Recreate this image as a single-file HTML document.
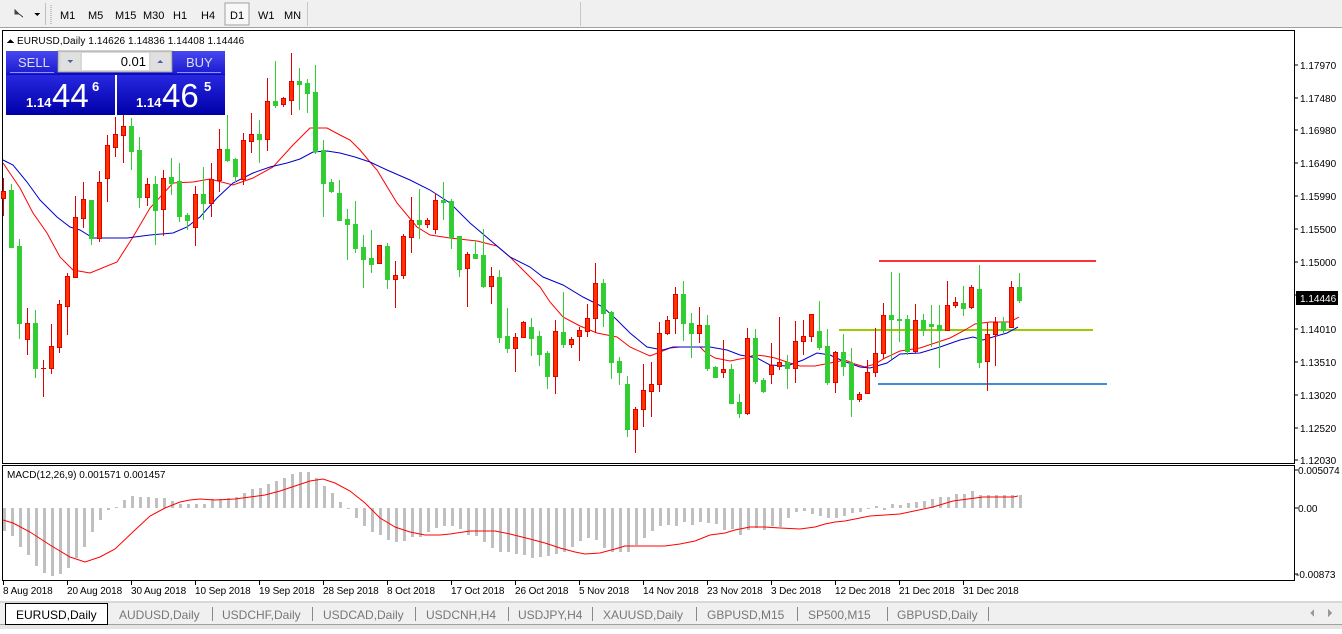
<!DOCTYPE html>
<html><head><meta charset="utf-8">
<style>
html,body{margin:0;padding:0;background:#fff;}
body{width:1342px;height:629px;overflow:hidden;position:relative;font-family:"Liberation Sans",sans-serif;}
svg text{font-family:"Liberation Sans",sans-serif;}
</style></head><body>
<svg width="1342" height="629" viewBox="0 0 1342 629" xmlns="http://www.w3.org/2000/svg" shape-rendering="crispEdges">
<rect x="0" y="0" width="1342" height="28" fill="#f0f0f0"/>
<rect x="0" y="27" width="1342" height="1" fill="#a0a0a0"/>
<rect x="580" y="2" width="1" height="24" fill="#c8c8c8"/>
<rect x="307" y="2" width="1" height="24" fill="#c8c8c8"/>
<rect x="45" y="3" width="1" height="22" fill="#c0c0c0"/>
<path d="M51 5V24" stroke="#999" stroke-dasharray="1 1"/>
<path d="M15 10l4 4-4 0zM19 14l4 3" stroke="#444" fill="#444"/>
<path d="M34 13h6l-3 3z" fill="#000"/>
<rect x="225" y="3" width="24" height="22" fill="#f8f8f8" stroke="#a0a0a0"/>
<g font-size="11" fill="#000">
<text x="60" y="19">M1</text><text x="88" y="19">M5</text><text x="115" y="19">M15</text><text x="143" y="19">M30</text><text x="173" y="19">H1</text><text x="201" y="19">H4</text><text x="230" y="19">D1</text><text x="258" y="19">W1</text><text x="284" y="19">MN</text>
</g>
<rect x="2.5" y="30.5" width="1292" height="433" fill="#fff" stroke="#000"/>
<rect x="2.5" y="465.5" width="1292" height="115" fill="#fff" stroke="#000"/>
<rect x="879" y="260" width="217" height="2" fill="#ff3333"/>
<rect x="839" y="329" width="254" height="2" fill="#9acd00"/>
<rect x="878" y="383" width="229" height="2" fill="#3a8fd8"/>
<g fill="none" stroke-width="1" shape-rendering="auto">
<polyline stroke="#ff0000" points="3,163 20,188 33,213 47,233 60,257 73,270 90,273 117,262 133,237 150,208 173,183 193,182 210,179 233,185 253,178 273,167 293,145 310,128 327,128 340,135 350,140 360,150 370,162 377,170 397,203 417,227 430,235 450,238 477,241 497,246 510,257 530,277 540,287 550,302 563,317 580,326 597,333 617,337 630,347 650,356 660,352 670,348 680,347 700,347 705,352 715,358 730,361 745,358 755,355 765,356 775,358 790,363 800,366 815,366 830,363 845,360 855,364 865,367 875,364 885,358 900,351 920,348 935,343 950,338 965,330 975,324 990,322 1010,322 1019,317"/>
<polyline stroke="#0000cc" points="3,160 13,165 27,182 40,200 57,217 70,227 80,230 93,238 127,238 150,235 173,233 187,227 200,217 217,198 233,183 253,173 270,167 287,163 300,159 313,152 327,151 340,153 355,157 370,162 387,170 410,180 430,190 450,203 470,223 490,240 510,257 530,267 543,277 563,285 583,297 603,307 617,320 630,333 647,347 663,350 673,347 710,347 727,350 740,355 757,358 770,365 787,366 803,360 817,353 830,355 843,361 860,367 870,368 887,363 900,354 920,353 940,347 960,340 973,337 983,340 993,337 1007,333 1018,327"/>
</g>
<g fill="#ff3300" stroke="#e00000">
<path fill="none" d="M3.5 178V216M27.5 308V355M43.5 360V397M51.5 324V374M59.5 300V353M67.5 273V335M75.5 196V278M83.5 182V228M99.5 171V242M107.5 135V202M115.5 117V157M123.5 112V163M147.5 178V206M163.5 170V236M195.5 186V246M211.5 163V217M219.5 129V192M243.5 133V185M251.5 113V153M267.5 78V151M283.5 97V107M291.5 53V115M379.5 245V263M395.5 261V308M403.5 234V279M411.5 197V253M427.5 218V228M435.5 193V234M467.5 252V307M491.5 267V304M515.5 333V372M523.5 321V338M555.5 320V394M571.5 337V348M579.5 327V361M587.5 304V337M595.5 263V333M635.5 407V453M643.5 364V427M651.5 362V417M659.5 322V392M667.5 316V335M675.5 287V334M699.5 307V343M723.5 340V378M747.5 328V415M771.5 343V384M779.5 317V370M795.5 321V383M803.5 320V355M811.5 314V342M835.5 351V393M859.5 392V402M867.5 360V394M875.5 328V377M883.5 303V359M915.5 304V353M947.5 281V330M955.5 297V308M971.5 285V309M987.5 323V391M995.5 317V366M1011.5 281V328"/>
<rect x="1.5" y="191.5" width="4" height="7"/><rect x="25.5" y="323.5" width="4" height="16"/><rect x="41.5" y="368.5" width="4" height="0.1"/><rect x="49.5" y="346.5" width="4" height="22"/><rect x="57.5" y="304.5" width="4" height="43"/><rect x="65.5" y="276.5" width="4" height="30"/><rect x="73.5" y="217.5" width="4" height="60"/><rect x="81.5" y="199.5" width="4" height="19"/><rect x="97.5" y="182.5" width="4" height="56"/><rect x="105.5" y="145.5" width="4" height="33"/><rect x="113.5" y="134.5" width="4" height="13"/><rect x="121.5" y="126.5" width="4" height="9"/><rect x="145.5" y="184.5" width="4" height="13"/><rect x="161.5" y="178.5" width="4" height="31"/><rect x="193.5" y="194.5" width="4" height="33"/><rect x="209.5" y="179.5" width="4" height="24"/><rect x="217.5" y="149.5" width="4" height="31"/><rect x="241.5" y="140.5" width="4" height="39"/><rect x="249.5" y="134.5" width="4" height="7"/><rect x="265.5" y="101.5" width="4" height="38"/><rect x="281.5" y="98.5" width="4" height="6"/><rect x="289.5" y="81.5" width="4" height="19"/><rect x="377.5" y="245.5" width="4" height="18"/><rect x="393.5" y="275.5" width="4" height="4"/><rect x="401.5" y="236.5" width="4" height="39"/><rect x="409.5" y="220.5" width="4" height="17"/><rect x="425.5" y="220.5" width="4" height="4"/><rect x="433.5" y="200.5" width="4" height="29"/><rect x="465.5" y="254.5" width="4" height="14"/><rect x="489.5" y="276.5" width="4" height="10"/><rect x="513.5" y="337.5" width="4" height="11"/><rect x="521.5" y="322.5" width="4" height="15"/><rect x="553.5" y="331.5" width="4" height="45"/><rect x="569.5" y="339.5" width="4" height="5"/><rect x="577.5" y="330.5" width="4" height="6"/><rect x="585.5" y="318.5" width="4" height="13"/><rect x="593.5" y="283.5" width="4" height="35"/><rect x="633.5" y="409.5" width="4" height="20"/><rect x="641.5" y="390.5" width="4" height="19"/><rect x="649.5" y="384.5" width="4" height="7"/><rect x="657.5" y="333.5" width="4" height="51"/><rect x="665.5" y="320.5" width="4" height="13"/><rect x="673.5" y="294.5" width="4" height="24"/><rect x="697.5" y="325.5" width="4" height="8"/><rect x="721.5" y="369.5" width="4" height="3"/><rect x="745.5" y="338.5" width="4" height="75"/><rect x="769.5" y="365.5" width="4" height="9"/><rect x="777.5" y="362.5" width="4" height="4"/><rect x="793.5" y="341.5" width="4" height="27"/><rect x="801.5" y="336.5" width="4" height="5"/><rect x="809.5" y="314.5" width="4" height="22"/><rect x="833.5" y="352.5" width="4" height="30"/><rect x="857.5" y="394.5" width="4" height="5"/><rect x="865.5" y="372.5" width="4" height="21"/><rect x="873.5" y="353.5" width="4" height="19"/><rect x="881.5" y="315.5" width="4" height="38"/><rect x="913.5" y="320.5" width="4" height="31"/><rect x="945.5" y="305.5" width="4" height="25"/><rect x="953.5" y="302.5" width="4" height="3"/><rect x="969.5" y="287.5" width="4" height="20"/><rect x="985.5" y="334.5" width="4" height="27"/><rect x="993.5" y="322.5" width="4" height="12"/><rect x="1009.5" y="287.5" width="4" height="40"/>
</g>
<g fill="#32cd32" stroke="#32cd32">
<path fill="none" d="M11.5 184V248M19.5 239V339M35.5 310V378M91.5 200V245M131.5 118V170M139.5 137V208M155.5 176V245M171.5 158V195M179.5 163V222M187.5 213V230M203.5 167V220M227.5 115V162M235.5 158V182M259.5 120V163M275.5 61V108M299.5 68V110M307.5 79V113M315.5 65V154M323.5 140V217M331.5 179V193M339.5 180V221M347.5 209V260M355.5 201V253M363.5 235V288M371.5 230V273M387.5 243V289M419.5 189V239M443.5 182V220M451.5 199V249M459.5 236V277M475.5 240V258M483.5 229V288M499.5 270V343M507.5 308V353M531.5 318V356M539.5 331V366M547.5 351V389M563.5 292V348M603.5 279V327M611.5 311V379M619.5 357V385M627.5 376V437M683.5 281V341M691.5 313V358M707.5 315V371M715.5 366V378M731.5 364V404M739.5 394V418M755.5 329V384M763.5 378V393M787.5 355V389M819.5 301V350M827.5 329V385M843.5 334V376M851.5 348V417M891.5 272V359M899.5 273V342M907.5 315V355M923.5 314V336M931.5 305V347M939.5 305V368M963.5 286V316M979.5 265V368M1003.5 317V333M1019.5 273V303"/>
<rect x="9.5" y="190.5" width="4" height="57"/><rect x="17.5" y="246.5" width="4" height="77"/><rect x="33.5" y="323.5" width="4" height="45"/><rect x="89.5" y="200.5" width="4" height="38"/><rect x="129.5" y="126.5" width="4" height="25"/><rect x="137.5" y="150.5" width="4" height="47"/><rect x="153.5" y="184.5" width="4" height="26"/><rect x="169.5" y="177.5" width="4" height="6"/><rect x="177.5" y="181.5" width="4" height="35"/><rect x="185.5" y="215.5" width="4" height="5"/><rect x="201.5" y="194.5" width="4" height="9"/><rect x="225.5" y="149.5" width="4" height="11"/><rect x="233.5" y="159.5" width="4" height="17"/><rect x="257.5" y="134.5" width="4" height="5"/><rect x="273.5" y="101.5" width="4" height="4"/><rect x="297.5" y="81.5" width="4" height="3"/><rect x="305.5" y="83.5" width="4" height="10"/><rect x="313.5" y="92.5" width="4" height="59"/><rect x="321.5" y="150.5" width="4" height="33"/><rect x="329.5" y="182.5" width="4" height="9"/><rect x="337.5" y="193.5" width="4" height="27"/><rect x="345.5" y="219.5" width="4" height="5"/><rect x="353.5" y="224.5" width="4" height="24"/><rect x="361.5" y="247.5" width="4" height="12"/><rect x="369.5" y="258.5" width="4" height="6"/><rect x="385.5" y="246.5" width="4" height="33"/><rect x="417.5" y="220.5" width="4" height="4"/><rect x="441.5" y="200.5" width="4" height="2"/><rect x="449.5" y="201.5" width="4" height="36"/><rect x="457.5" y="236.5" width="4" height="33"/><rect x="473.5" y="254.5" width="4" height="4"/><rect x="481.5" y="255.5" width="4" height="31"/><rect x="497.5" y="277.5" width="4" height="60"/><rect x="505.5" y="336.5" width="4" height="12"/><rect x="529.5" y="327.5" width="4" height="11"/><rect x="537.5" y="336.5" width="4" height="18"/><rect x="545.5" y="353.5" width="4" height="23"/><rect x="561.5" y="332.5" width="4" height="12"/><rect x="601.5" y="283.5" width="4" height="30"/><rect x="609.5" y="312.5" width="4" height="50"/><rect x="617.5" y="361.5" width="4" height="11"/><rect x="625.5" y="384.5" width="4" height="45"/><rect x="681.5" y="294.5" width="4" height="29"/><rect x="689.5" y="323.5" width="4" height="10"/><rect x="705.5" y="325.5" width="4" height="43"/><rect x="713.5" y="367.5" width="4" height="10"/><rect x="729.5" y="369.5" width="4" height="34"/><rect x="737.5" y="402.5" width="4" height="11"/><rect x="753.5" y="338.5" width="4" height="43"/><rect x="761.5" y="380.5" width="4" height="11"/><rect x="785.5" y="362.5" width="4" height="6"/><rect x="817.5" y="331.5" width="4" height="16"/><rect x="825.5" y="346.5" width="4" height="36"/><rect x="841.5" y="352.5" width="4" height="14"/><rect x="849.5" y="363.5" width="4" height="36"/><rect x="889.5" y="315.5" width="4" height="4"/><rect x="897.5" y="319.5" width="4" height="1"/><rect x="905.5" y="319.5" width="4" height="32"/><rect x="921.5" y="320.5" width="4" height="10"/><rect x="929.5" y="324.5" width="4" height="2"/><rect x="937.5" y="325.5" width="4" height="5"/><rect x="961.5" y="303.5" width="4" height="5"/><rect x="977.5" y="289.5" width="4" height="73"/><rect x="1001.5" y="322.5" width="4" height="8"/><rect x="1017.5" y="287.5" width="4" height="13"/>
</g>
<path d="M7 43l3.5-4 3.5 4z" fill="#000"/>
<text x="17" y="44" font-size="10" letter-spacing="0.1" fill="#000">EURUSD,Daily  1.14626 1.14836 1.14408 1.14446</text>
<defs>
<linearGradient id="gb" x1="0" y1="0" x2="0" y2="1"><stop offset="0" stop-color="#4848f0"/><stop offset="1" stop-color="#1a1ad0"/></linearGradient>
<linearGradient id="gd" x1="0" y1="0" x2="0" y2="1"><stop offset="0" stop-color="#2828e0"/><stop offset="1" stop-color="#0000a8"/></linearGradient>
</defs>
<rect x="6" y="51" width="219" height="64" fill="#0a0ac0"/>
<rect x="6" y="51" width="51" height="23" fill="url(#gb)"/>
<rect x="173" y="51" width="52" height="23" fill="url(#gb)"/>
<rect x="10" y="72" width="44" height="1" fill="#9090ff"/>
<rect x="177" y="72" width="44" height="1" fill="#9090ff"/>
<rect x="58" y="51" width="114" height="21" fill="#d8d8d8" stroke="#a0a0a0"/>
<rect x="82" y="53" width="67" height="17" fill="#fff"/>
<rect x="61" y="53" width="19" height="17" fill="#e0e0e0"/>
<rect x="151" y="53" width="19" height="17" fill="#e0e0e0"/>
<path d="M67 60h6l-3 3z" fill="#5060a0"/><path d="M157 63h6l-3-3z" fill="#5060a0"/>
<text x="146" y="66" font-size="13" fill="#000" text-anchor="end">0.01</text>
<text x="18" y="67" font-size="13" fill="#dde">SELL</text>
<text x="186" y="67" font-size="13" fill="#dde">BUY</text>
<rect x="6" y="75" width="109" height="40" fill="url(#gd)"/>
<rect x="117" y="75" width="108" height="40" fill="url(#gd)"/>
<rect x="115" y="75" width="2" height="40" fill="#fff"/>
<g fill="#fff">
<text x="26" y="107" font-size="13" font-weight="bold">1.14</text>
<text x="52" y="107" font-size="33">44</text>
<text x="92" y="91" font-size="13" font-weight="bold">6</text>
<text x="136" y="107" font-size="13" font-weight="bold">1.14</text>
<text x="162" y="107" font-size="33">46</text>
<text x="204" y="91" font-size="13" font-weight="bold">5</text>
</g>
<path d="M1294 65h4M1294 98h4M1294 130h4M1294 163h4M1294 196h4M1294 229h4M1294 262h4M1294 295h4M1294 329h4M1294 362h4M1294 395h4M1294 428h4M1294 460h4M1294 470h4M1294 508h4M1294 574h4" stroke="#000"/>
<g font-size="10" fill="#000">
<text x="1300" y="69">1.17970</text><text x="1300" y="102">1.17480</text><text x="1300" y="134">1.16980</text><text x="1300" y="167">1.16490</text><text x="1300" y="200">1.15990</text><text x="1300" y="233">1.15500</text><text x="1300" y="266">1.15000</text><text x="1300" y="333">1.14010</text><text x="1300" y="366">1.13510</text><text x="1300" y="399">1.13020</text><text x="1300" y="432">1.12520</text><text x="1300" y="464">1.12030</text>
<text x="1298" y="474">0.005074</text><text x="1298" y="512">0.00</text><text x="1296" y="578">-0.00873</text>
</g>
<rect x="1296" y="291" width="42" height="14" fill="#000"/>
<text x="1300" y="302" font-size="10" fill="#fff">1.14446</text>
<text x="7" y="478" font-size="10" fill="#000">MACD(12,26,9) 0.001571 0.001457</text>
<path stroke="#c0c0c0" stroke-width="3" fill="none" d="M4.5 508V531M12.5 508V536M20.5 508V547M28.5 508V555M36.5 508V566M44.5 508V573M52.5 508V576M60.5 508V574M68.5 508V568M76.5 508V558M84.5 508V547M92.5 508V532M100.5 508V520M108.5 508V510M116.5 508V507M124.5 508V500M132.5 508V496M140.5 508V497M148.5 508V497M156.5 508V498M164.5 508V498M172.5 508V501M180.5 508V504M188.5 508V504M196.5 508V504M204.5 508V504M212.5 508V499M220.5 508V499M228.5 508V498M236.5 508V497M244.5 508V493M252.5 508V489M260.5 508V488M268.5 508V484M276.5 508V481M284.5 508V478M292.5 508V474M300.5 508V472M308.5 508V472M316.5 508V478M324.5 508V486M332.5 508V493M340.5 508V502M348.5 508V509M356.5 508V518M364.5 508V526M372.5 508V532M380.5 508V535M388.5 508V540M396.5 508V542M404.5 508V541M412.5 508V537M420.5 508V537M428.5 508V532M436.5 508V528M444.5 508V526M452.5 508V526M460.5 508V529M468.5 508V535M476.5 508V536M484.5 508V542M492.5 508V548M500.5 508V552M508.5 508V552M516.5 508V554M524.5 508V555M532.5 508V558M540.5 508V557M548.5 508V556M556.5 508V554M564.5 508V552M572.5 508V547M580.5 508V541M588.5 508V538M596.5 508V540M604.5 508V548M612.5 508V552M620.5 508V552M628.5 508V552M636.5 508V545M644.5 508V538M652.5 508V531M660.5 508V526M668.5 508V525M676.5 508V526M684.5 508V522M692.5 508V525M700.5 508V522M708.5 508V523M716.5 508V524M724.5 508V530M732.5 508V529M740.5 508V535M748.5 508V530M756.5 508V528M764.5 508V530M772.5 508V526M780.5 508V527M788.5 508V518M796.5 508V512M804.5 508V511M812.5 508V514M820.5 508V516M828.5 508V518M836.5 508V518M844.5 508V516M852.5 508V513M860.5 508V512M868.5 508V509M876.5 508V506M884.5 508V510M892.5 508V504M900.5 508V505M908.5 508V503M916.5 508V502M924.5 508V501M932.5 508V499M940.5 508V497M948.5 508V497M956.5 508V494M964.5 508V494M972.5 508V491M980.5 508V495M988.5 508V495M996.5 508V495M1004.5 508V495M1012.5 508V495M1020.5 508V495"/>
<polyline fill="none" stroke="#ff0000" shape-rendering="auto" points="3,520 13,523 30,532 50,545 70,557 85,562 100,557 115,549 135,530 150,516 165,508 180,502 190,500 200,499 215,500 235,499 250,497 265,495 280,491 295,486 310,481 323,479 335,483 350,491 365,503 380,518 395,527 410,532 425,535 440,535 450,534 470,531 495,531 510,534 530,539 545,543 560,548 575,552 585,554 600,553 615,549 625,546 640,546 665,546 680,544 695,541 710,535 725,533 735,530 750,527 765,527 780,528 800,529 815,527 825,524 835,522 845,521 855,519 870,516 885,515 900,514 933,507 953,501 983,497 1013,497 1018,496"/>
<path stroke="#000" d="M3.5 581V585M67.5 581V585M131.5 581V585M195.5 581V585M259.5 581V585M323.5 581V585M387.5 581V585M451.5 581V585M515.5 581V585M579.5 581V585M643.5 581V585M707.5 581V585M771.5 581V585M835.5 581V585M899.5 581V585M963.5 581V585"/>
<g font-size="10" fill="#000" letter-spacing="-0.1">
<text x="3" y="594">8 Aug 2018</text><text x="67" y="594">20 Aug 2018</text><text x="131" y="594">30 Aug 2018</text><text x="195" y="594">10 Sep 2018</text><text x="259" y="594">19 Sep 2018</text><text x="323" y="594">28 Sep 2018</text><text x="387" y="594">8 Oct 2018</text><text x="451" y="594">17 Oct 2018</text><text x="515" y="594">26 Oct 2018</text><text x="579" y="594">5 Nov 2018</text><text x="643" y="594">14 Nov 2018</text><text x="707" y="594">23 Nov 2018</text><text x="771" y="594">3 Dec 2018</text><text x="835" y="594">12 Dec 2018</text><text x="899" y="594">21 Dec 2018</text><text x="963" y="594">31 Dec 2018</text>
</g>
<rect x="0" y="601" width="1342" height="28" fill="#f0f0f0"/>
<rect x="0" y="601" width="1342" height="2" fill="#d8d8d8"/>
<rect x="0" y="624" width="1342" height="5" fill="#e4e4e4"/>
<rect x="0" y="624" width="1342" height="1" fill="#a0a0a0"/>
<rect x="5.5" y="603.5" width="102" height="21" fill="#fff" stroke="#000"/>
<g fill="#888"><rect x="212" y="607" width="1" height="14"/><rect x="312" y="607" width="1" height="14"/><rect x="415" y="607" width="1" height="14"/><rect x="508" y="607" width="1" height="14"/><rect x="592" y="607" width="1" height="14"/><rect x="696" y="607" width="1" height="14"/><rect x="797" y="607" width="1" height="14"/><rect x="887" y="607" width="1" height="14"/><rect x="988" y="607" width="1" height="14"/></g>
<g font-size="12" fill="#777">
<text x="16" y="619" fill="#000">EURUSD,Daily</text>
<text x="119" y="619">AUDUSD,Daily</text><text x="222" y="619">USDCHF,Daily</text><text x="323" y="619">USDCAD,Daily</text><text x="426" y="619">USDCNH,H4</text><text x="518" y="619">USDJPY,H4</text><text x="603" y="619">XAUUSD,Daily</text><text x="707" y="619">GBPUSD,M15</text><text x="808" y="619">SP500,M15</text><text x="897" y="619">GBPUSD,Daily</text>
</g>
<path d="M1314 609l-4 4 4 4z M1328 609l4 4-4 4z" fill="#999"/>
</svg>
</body></html>
